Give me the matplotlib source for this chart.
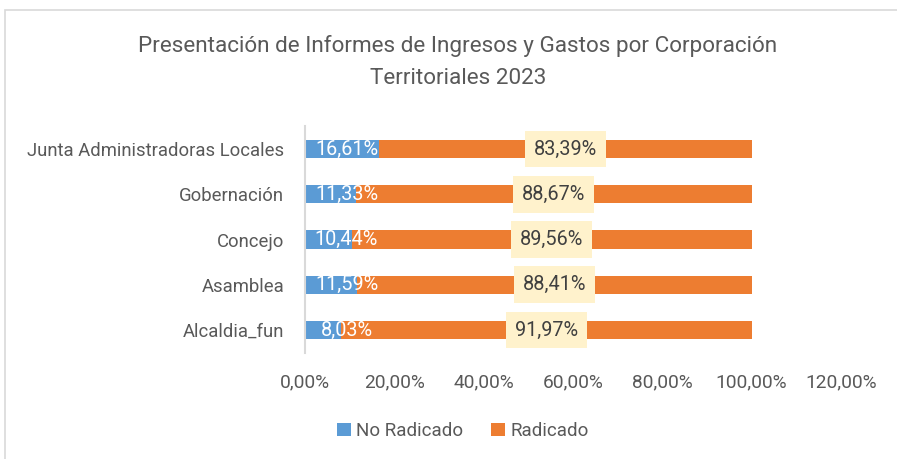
import matplotlib.pyplot as plt
from matplotlib.patches import Rectangle

# data
categories = ["Alcaldia_fun", "Asamblea", "Concejo", "Gobernación", "Junta Administradoras Locales"]
no_radicado = [8.03, 11.59, 10.44, 11.33, 16.61]
radicado = [91.97, 88.41, 89.56, 88.67, 83.39]
xticks = [0, 20, 40, 60, 80, 100, 120]

blue = "#5B9BD5"
orange = "#ED7D31"
grey = "#595959"

plt.rcParams['font.family'] = ['Roboto', 'DejaVu Sans']

fig = plt.figure(figsize=(8.97, 4.59), dpi=100)
# light frame round the chart, as in the spreadsheet export
fig.patches.append(Rectangle((5 / 897, -0.01), 1.0, 1 - 10 / 459 + 0.01, transform=fig.transFigure,
                             fill=False, edgecolor="#D9D9D9", linewidth=1.2))

ax = fig.add_axes([305 / 897, 1 - 352.6 / 459, (841 - 305) / 897, (352.6 - 126.4) / 459])

ypos = list(range(len(categories)))
ax.barh(ypos, no_radicado, height=0.4, color=blue, label="No Radicado")
ax.barh(ypos, radicado, left=no_radicado, height=0.4, color=orange, label="Radicado")

for y, a, b in zip(ypos, no_radicado, radicado):
    ax.text(9.3, y, f"{a:.2f}%".replace(".", ","), color="white", fontsize=14.3,
            ha="center", va="center")
    ax.text(a + b / 2, y, f"{b:.2f}%".replace(".", ","), color="#404040", fontsize=14.3,
            ha="center", va="center",
            bbox=dict(boxstyle="square,pad=0.45", facecolor="#FFF2CC", edgecolor="none"))

ax.set_xlim(0, 120)
ax.set_ylim(-0.5, len(categories) - 0.5)
ax.set_xticks(xticks)
ax.set_xticklabels([f"{t:.2f}%".replace(".", ",") for t in xticks], color=grey, fontsize=13.8)
ax.set_yticks(ypos)
ax.set_yticklabels(categories, color=grey, fontsize=13.3)
ax.tick_params(length=0, axis="x", pad=15)
ax.tick_params(length=0, axis="y", pad=15)
for s in ["top", "right", "bottom"]:
    ax.spines[s].set_visible(False)
ax.spines["left"].set_color("#D9D9D9")
ax.spines["left"].set_linewidth(1.5)

fig.text(458 / 897, 1 - 46 / 459, "Presentación de Informes de Ingresos y Gastos por Corporación",
         ha="center", va="center", fontsize=16.2, color=grey)
fig.text(458 / 897, 1 - 78 / 459, "Territoriales 2023",
         ha="center", va="center", fontsize=16.2, color=grey)

fig.legend(loc="center", bbox_to_anchor=(463 / 897, 1 - 431 / 459), ncol=2, frameon=False,
           fontsize=13.5, handlelength=0.7, handleheight=0.7, handletextpad=0.3,
           columnspacing=1.5, labelcolor=grey)

fig.savefig("out.png", dpi=100)
